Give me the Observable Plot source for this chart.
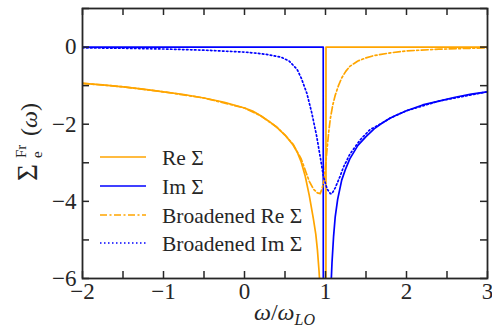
<!DOCTYPE html>
<html><head><meta charset="utf-8">
<script src="https://cdn.jsdelivr.net/npm/d3@7"></script>
<script src="https://cdn.jsdelivr.net/npm/@observablehq/plot@0.6"></script>
<style>
body{margin:0;background:#fff;}
#chart{width:492px;height:328px;}
#chart svg text, #chart svg tspan { font-family: "Liberation Serif", "DejaVu Serif", "Times New Roman", serif !important; }
</style>
</head><body><div id="chart"></div>
<script>
// Re Σ (solid orange)
const reX = [-2,-1.75,-1.5,-1.25,-1,-0.75,-0.5,-0.25,0,0.1,0.2,0.3,0.4,0.5,0.6,0.65,0.7,0.75,0.8,0.85,0.88,0.9,0.92,0.94,0.97,1.003,1.006,1.5,2,2.5,3];
const reY = [-0.94,-0.98,-1.03,-1.09,-1.16,-1.23,-1.32,-1.43,-1.58,-1.66,-1.78,-1.92,-2.08,-2.28,-2.54,-2.72,-2.98,-3.35,-3.85,-4.45,-4.85,-5.25,-5.8,-6.5,-9,-28,0,0,0,0,0];
// Im Σ (solid blue)
const imX = [-2,-1,0,0.5,0.9,0.972,0.976,1.04,1.07,1.08,1.1,1.12,1.15,1.2,1.25,1.3,1.4,1.5,1.6,1.7,1.8,1.9,2,2.2,2.4,2.6,2.8,3];
const imY = [0,0,0,0,0,0,-28,-9,-6.1,-5.6,-4.9,-4.4,-3.95,-3.45,-3.15,-2.9,-2.55,-2.32,-2.12,-1.97,-1.84,-1.74,-1.65,-1.5,-1.4,-1.3,-1.22,-1.16];
// Broadened Re Σ (dash-dot orange)
const breX = [-2,-1.5,-1,-0.5,0,0.2,0.4,0.5,0.6,0.7,0.76,0.8,0.85,0.9,0.935,0.96,0.98,1.0,1.02,1.04,1.06,1.09,1.12,1.16,1.2,1.25,1.3,1.4,1.5,1.6,1.8,2.0,2.4,3];
const breY = [-0.94,-1.03,-1.16,-1.32,-1.58,-1.78,-2.08,-2.28,-2.52,-2.9,-3.25,-3.48,-3.68,-3.78,-3.8,-3.65,-3.45,-3.1,-2.62,-2.2,-1.85,-1.5,-1.25,-1.0,-0.8,-0.63,-0.5,-0.36,-0.28,-0.22,-0.15,-0.1,-0.055,-0.02];
// Broadened Im Σ (dotted blue)
const bimX = [-2,-1.5,-1,-0.5,0,0.2,0.3,0.45,0.55,0.65,0.7,0.77,0.83,0.89,0.935,0.976,1.02,1.06,1.08,1.12,1.18,1.22,1.3,1.43,1.55,1.7,1.8,2,2.4,3];
const bimY = [-0.02,-0.03,-0.05,-0.08,-0.13,-0.17,-0.2,-0.26,-0.36,-0.58,-0.8,-1.2,-1.7,-2.3,-2.85,-3.37,-3.68,-3.8,-3.8,-3.65,-3.35,-3.12,-2.78,-2.4,-2.14,-1.97,-1.84,-1.65,-1.4,-1.16];

const names = ["Re Σ","Im Σ","Broadened Re Σ","Broadened Im Σ"];
const colors = ["#FFA500","#0000FF","#FFA500","#0000FF"];
const dashes = [null,null,"7,2.5,2,2.5","1.5,2.5"];
const xTickLabels = [-2,-1,0,1,2,3];
const xTicksAll = [-2,-1.5,-1,-0.5,0,0.5,1,1.5,2,2.5,3];
const yTickLabels = [0,-2,-4,-6];
const yTicksAll = [1,0,-1,-2,-3,-4,-5,-6];

const xs = [reX,imX,breX,bimX], ys = [reY,imY,breY,bimY];
const W = 492, H = 328, mL = 82, mR = 5, mT = 8, mB = 50;
const pW = W - mL - mR, pH = H - mT - mB;
const ink = "#262626";
const font = "Liberation Serif, DejaVu Serif, serif";

const lineMarks = names.map((n, k) => Plot.line(xs[k].map((x, i) => ({x, y: ys[k][i]})), {
  x: "x", y: "y", stroke: colors[k], strokeWidth: 1.7, strokeDasharray: dashes[k], clip: true
}));

const plot = Plot.plot({
  width: W, height: H, marginLeft: mL, marginRight: mR, marginTop: mT, marginBottom: mB,
  x: {domain: [-2, 3]},
  y: {domain: [-6, 1]},
  style: {fontFamily: font, fontSize: "23px", color: ink, background: "white", overflow: "visible"},
  marks: [
    ...lineMarks,
    Plot.ruleX(xTicksAll, {x: d => d, stroke: ink, strokeWidth: 1.5, insetTop: pH - 7}),
    Plot.ruleX(xTicksAll, {x: d => d, stroke: ink, strokeWidth: 1.5, insetBottom: pH - 7}),
    Plot.ruleY(yTicksAll, {y: d => d, stroke: ink, strokeWidth: 1.5, insetRight: pW - 7}),
    Plot.ruleY(yTicksAll, {y: d => d, stroke: ink, strokeWidth: 1.5, insetLeft: pW - 7}),
    Plot.frame({stroke: ink, strokeWidth: 1.8}),
    Plot.axisX(xTickLabels, {tickSize: 0, tickPadding: 4, label: null, fontSize: 23, fill: ink}),
    Plot.axisY(yTickLabels, {tickSize: 0, tickPadding: 6, label: null, fontSize: 23, fill: ink})
  ]
});
document.getElementById("chart").appendChild(plot);

const svg = d3.select(plot);
// x axis title
const xt = svg.append("text").attr("x", mL + pW / 2).attr("y", 320)
  .attr("text-anchor", "middle").attr("font-size", 24).attr("fill", ink);
xt.append("tspan").attr("font-style", "italic").text("ω");
xt.append("tspan").text("/");
xt.append("tspan").attr("font-style", "italic").text("ω");
xt.append("tspan").attr("font-style", "italic").attr("font-size", 16).attr("dy", 5).text("LO");

// y axis title (rotated)
const yg = svg.append("g").attr("transform", "translate(37,181) rotate(-90)")
  .attr("text-anchor", "start").attr("fill", ink);
yg.append("text").attr("x", 0).attr("y", 0).attr("font-size", 29).text("Σ");
yg.append("text").attr("x", 23).attr("y", -11).attr("font-size", 15).text("Fr");
yg.append("text").attr("x", 23).attr("y", 5).attr("font-size", 15).text("e");
const yt2 = yg.append("text").attr("x", 45).attr("y", 0).attr("font-size", 24);
yt2.append("tspan").text("(");
yt2.append("tspan").attr("font-style", "italic").text("ω");
yt2.append("tspan").text(")");

// legend
const legY = [157, 186, 215, 243];
const leg = svg.append("g").attr("text-anchor", "start").attr("font-size", 21.5).attr("fill", ink);
names.forEach((n, k) => {
  leg.append("line").attr("x1", 100).attr("x2", 146).attr("y1", legY[k]).attr("y2", legY[k])
    .attr("stroke", colors[k]).attr("stroke-width", 1.7).attr("stroke-dasharray", dashes[k]);
  leg.append("text").attr("x", 162).attr("y", legY[k]).attr("dy", "0.35em").text(n);
});
</script>
</body></html>
